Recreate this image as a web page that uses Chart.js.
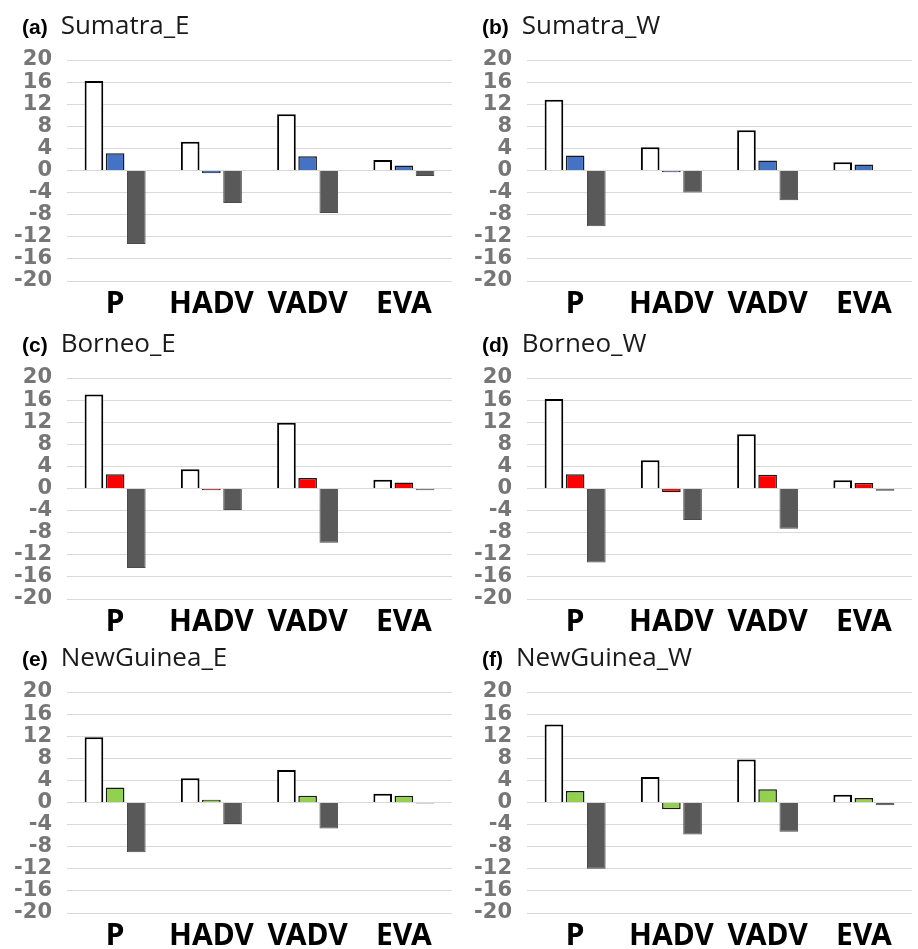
<!DOCTYPE html>
<html>
<head>
<meta charset="utf-8">
<script src="https://cdn.jsdelivr.net/npm/chart.js@4"></script>
<style>
    body { margin: 0; background: #fff; }
    #wrap { position: relative; width: 918px; height: 949px; overflow: hidden; }
    .panel { position: absolute; width: 458px; height: 317px; }
    .panel canvas { position: absolute; left: 0; top: 0; }
    .title { position: absolute; left: 22px; top: 6px; white-space: nowrap; color: #1a1a1a; }
    .title b { font-family: "Liberation Sans", Arial, sans-serif; font-size: 21px; font-weight: bold; color: #000; }
    .title span { font-family: "Open Sans", "Noto Sans", sans-serif; font-size: 26px; margin-left: 13px; }
</style>
</head>
<body>
<div id="wrap"></div>
<script>
const categories = ['P', 'HADV', 'VADV', 'EVA'];
const yTicks = [20, 16, 12, 8, 4, 0, -4, -8, -12, -16, -20];

const panelLetters = ['(a)', '(b)', '(c)', '(d)', '(e)', '(f)'];
const panelNames = ['Sumatra_E', 'Sumatra_W', 'Borneo_E', 'Borneo_W', 'NewGuinea_E', 'NewGuinea_W'];

// first bar (white), second bar (coloured), third bar (dark grey) for each panel
const sumatraE = [[16.2, 5.2, 10.2, 1.9], [3.1, -0.5, 2.6, 0.9], [-13.3, -5.9, -7.7, -1.0]];
const sumatraW = [[12.8, 4.2, 7.3, 1.5], [2.7, -0.3, 1.8, 1.1], [-10.1, -4.0, -5.4, -0.1]];
const borneoE = [[17.0, 3.5, 11.9, 1.6], [2.6, -0.3, 1.9, 1.1], [-14.4, -3.9, -9.8, -0.3]];
const borneoW = [[16.2, 5.1, 9.8, 1.5], [2.6, -0.7, 2.5, 1.0], [-13.4, -5.7, -7.3, -0.4]];
const newGuineaE = [[11.8, 4.4, 5.9, 1.6], [2.7, 0.5, 1.2, 1.2], [-9.0, -3.9, -4.7, -0.2]];
const newGuineaW = [[14.1, 4.6, 7.8, 1.4], [2.1, -1.2, 2.4, 0.8], [-12.0, -5.8, -5.3, -0.5]];

const panelData = [sumatraE, sumatraW, borneoE, borneoW, newGuineaE, newGuineaW];
const panelColors = ['#4472C4', '#4472C4', '#FF0000', '#FF0000', '#92D050', '#92D050'];

const panelLeft = [0, 460];
const panelTop = [0, 318, 632];

function makePanel(i) {
    const wrap = document.getElementById('wrap');
    const panel = document.createElement('div');
    panel.className = 'panel';
    panel.style.left = panelLeft[i % 2] + 'px';
    panel.style.top = panelTop[Math.floor(i / 2)] + 'px';

    const canvas = document.createElement('canvas');
    canvas.width = 458;
    canvas.height = 317;
    panel.appendChild(canvas);

    const title = document.createElement('div');
    title.className = 'title';
    title.innerHTML = '<b>' + panelLetters[i] + '</b><span>' + panelNames[i] + '</span>';
    panel.appendChild(title);
    wrap.appendChild(panel);

    const values = panelData[i];
    const common = { barPercentage: 0.88, categoryPercentage: 0.66 };

    new Chart(canvas.getContext('2d'), {
        type: 'bar',
        data: {
            labels: categories,
            datasets: [
                Object.assign({
                    data: values[0],
                    backgroundColor: '#ffffff',
                    borderColor: '#000000',
                    borderWidth: 2
                }, common),
                Object.assign({
                    data: values[1],
                    backgroundColor: panelColors[i],
                    borderColor: '#1a1a1a',
                    borderWidth: 1.5
                }, common),
                Object.assign({
                    data: values[2],
                    backgroundColor: '#595959',
                    borderColor: '#4a4a4a',
                    borderWidth: 1
                }, common)
            ]
        },
        options: {
            responsive: false,
            animation: false,
            layout: { padding: { left: 0, right: 6, top: 60, bottom: 0 } },
            plugins: {
                legend: { display: false },
                tooltip: { enabled: false }
            },
            scales: {
                x: {
                    grid: { display: false, drawTicks: false },
                    border: { display: false },
                    ticks: {
                        color: '#000000',
                        padding: 5,
                        font: { family: 'Noto Sans', size: 30, weight: 'bold' }
                    },
                    afterFit: function(scale) { scale.height = 36; }
                },
                y: {
                    min: -20,
                    max: 20,
                    grid: { color: '#d9d9d9', lineWidth: 1, drawTicks: false },
                    border: { display: false },
                    afterBuildTicks: function(scale) {
                        scale.ticks = yTicks.map(v => ({ value: v }));
                    },
                    ticks: {
                        autoSkip: false,
                        color: '#767676',
                        padding: 15,
                        font: { family: 'DejaVu Sans', size: 21, weight: 'bold', lineHeight: 1 }
                    },
                    afterFit: function(scale) { scale.width = 67; }
                }
            }
        }
    });
}

for (let i = 0; i < 6; i++) {
    makePanel(i);
}
</script>
</body>
</html>
